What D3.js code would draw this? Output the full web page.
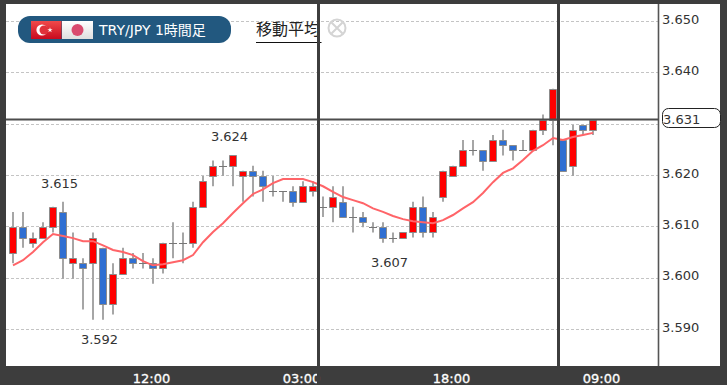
<!DOCTYPE html>
<html>
<head>
<meta charset="utf-8">
<script src="https://cdnjs.cloudflare.com/ajax/libs/d3/7.8.5/d3.min.js"></script>
<style>
html,body{margin:0;padding:0;background:#3d3d3d;overflow:hidden}
svg{display:block}
text{font-family:"DejaVu Sans",sans-serif}
</style>
</head>
<body>
<svg id="c" width="727" height="385"></svg>
<script>
const opens = [3.605,3.610,3.607,3.608,3.610,3.613,3.603,3.603,3.603,3.606,3.595,3.601,3.604,3.603,3.603,3.602,3.607,3.607,3.607,3.614,3.620,3.622,3.622,3.620,3.621,3.620,3.617,3.617,3.617,3.615,3.617,3.614,3.614,3.615,3.612,3.612,3.610,3.610,3.608,3.608,3.609,3.614,3.609,3.616,3.620,3.622,3.625,3.625,3.623,3.627,3.626,3.625,3.625,3.629,3.631,3.627,3.622,3.630,3.629];
const closes = [3.610,3.608,3.608,3.610,3.614,3.604,3.604,3.602,3.608,3.595,3.601,3.604,3.603,3.603,3.602,3.607,3.607,3.607,3.614,3.619,3.622,3.622,3.624,3.621,3.620,3.618,3.617,3.617,3.615,3.618,3.618,3.614,3.616,3.612,3.612,3.611,3.610,3.608,3.608,3.609,3.614,3.609,3.612,3.621,3.622,3.625,3.625,3.623,3.627,3.626,3.625,3.625,3.629,3.631,3.637,3.621,3.629,3.629,3.631];
const highs = [3.613,3.613,3.609,3.611,3.614,3.615,3.609,3.604,3.609,3.606,3.603,3.606,3.605,3.605,3.604,3.607,3.611,3.609,3.615,3.620,3.623,3.623,3.624,3.621,3.622,3.621,3.620,3.617,3.618,3.619,3.619,3.616,3.618,3.618,3.614,3.613,3.611,3.611,3.609,3.609,3.615,3.616,3.613,3.621,3.622,3.627,3.627,3.625,3.628,3.629,3.626,3.627,3.629,3.632,3.637,3.627,3.630,3.630,3.631];
const lows = [3.603,3.606,3.606,3.608,3.609,3.600,3.600,3.594,3.592,3.592,3.593,3.601,3.602,3.602,3.599,3.601,3.604,3.603,3.606,3.614,3.618,3.620,3.618,3.615,3.616,3.615,3.616,3.615,3.614,3.615,3.616,3.612,3.611,3.612,3.609,3.610,3.609,3.607,3.607,3.608,3.608,3.608,3.608,3.615,3.620,3.622,3.624,3.621,3.623,3.624,3.623,3.625,3.625,3.628,3.626,3.621,3.620,3.628,3.628];
const movingAverage = [3.6026,3.6036,3.6052,3.6071,3.6087,3.6083,3.6079,3.6073,3.6073,3.6065,3.6056,3.6052,3.6046,3.6034,3.6026,3.6028,3.6032,3.6036,3.6046,3.6071,3.6091,3.6108,3.6128,3.6147,3.6165,3.6174,3.6186,3.6194,3.6194,3.6194,3.6188,3.6180,3.6169,3.6159,3.6153,3.6147,3.6137,3.6130,3.6122,3.6116,3.6112,3.6110,3.6108,3.6114,3.6124,3.6137,3.6149,3.6167,3.6188,3.6206,3.6215,3.6231,3.6249,3.6260,3.6274,3.6270,3.6276,3.6280,3.6284];
const gridPrices = [3.650,3.640,3.630,3.620,3.610,3.600,3.590];
const priceTicks = [3.650,3.640,3.620,3.610,3.600,3.590];
const timeTickIndex = [14,29,44,59];
const timeTickLabels = ["12:00","03:00","18:00","09:00"];
const separators = [30.55,54.55];
const lastPrice = 3.631;
const highNotes = [{i:5,v:3.615},{i:22,v:3.624}];
const lowNotes = [{i:9,v:3.592},{i:38,v:3.607}];

const svg = d3.select("#c");
const L=6,R=720,T=4,B=366,AX=658.5;
const x = d3.scaleLinear().domain([0,58]).range([13,593]);
const y = d3.scaleLinear().domain([3.650,3.590]).range([22,330]);
const crisp = v => Math.round(v)+0.5;

svg.append("rect").attr("width",727).attr("height",385).attr("fill","#3d3d3d");
svg.append("rect").attr("x",L).attr("y",T).attr("width",R-L).attr("height",B-T).attr("fill","#fff");

const defs = svg.append("defs");
const g1 = defs.append("linearGradient").attr("id","tr").attr("x1",0).attr("y1",0).attr("x2",0).attr("y2",1);
g1.append("stop").attr("offset",0).attr("stop-color","#f04a4a");
g1.append("stop").attr("offset",1).attr("stop-color","#c80a1e");
const g2 = defs.append("linearGradient").attr("id","jp").attr("x1",0).attr("y1",0).attr("x2",0).attr("y2",1);
g2.append("stop").attr("offset",0).attr("stop-color","#ffffff");
g2.append("stop").attr("offset",1).attr("stop-color","#dedede");

// grid
svg.append("g").selectAll("line").data(gridPrices).join("line")
  .attr("x1",L).attr("x2",AX)
  .attr("y1",d=>crisp(y(d))-1).attr("y2",d=>crisp(y(d))-1)
  .attr("stroke","#c4c4c4").attr("stroke-width",1).attr("stroke-dasharray","3 2");

// candles
const idx = d3.range(opens.length);
const cg = svg.append("g");
cg.selectAll("line.w").data(idx).join("line").attr("class","w")
  .attr("x1",i=>x(i)).attr("x2",i=>x(i))
  .attr("y1",i=>y(highs[i])).attr("y2",i=>y(lows[i]))
  .attr("stroke","#a6a6a6").attr("stroke-width",2);
cg.selectAll("path.b").data(idx).join("path").attr("class","b")
  .attr("d",i=>{
    const t=Math.round(y(Math.max(opens[i],closes[i])));
    const b=Math.round(y(Math.min(opens[i],closes[i])));
    const l=x(i)-4;
    if(b===t) return `M${l},${t+.5}h8`;
    return `M${l+.5},${t+.5}h7v${b-t}h-7z`;
  })
  .attr("fill",i=>closes[i]>opens[i]?"#ff0000":closes[i]<opens[i]?"#2f6fd2":"none")
  .attr("stroke",i=>closes[i]===opens[i]?"#777":"#8c8c8c")
  .attr("stroke-width",1);

// moving average
svg.append("path").datum(movingAverage)
  .attr("d",d3.line().x((d,i)=>x(i)).y(d=>y(d)))
  .attr("fill","none").attr("stroke","#ff6468").attr("stroke-width",2);

// high and low notes
const noteStyle = s => s.attr("font-size",13).attr("fill","#333").attr("text-anchor","middle");
svg.append("g").selectAll("text").data(highNotes).join("text")
  .attr("x",d=>x(d.i)-3.5).attr("y",d=>y(d.v)-14).text(d=>d.v.toFixed(3)).call(noteStyle);
svg.append("g").selectAll("text").data(lowNotes).join("text")
  .attr("x",d=>x(d.i)-3.5).attr("y",d=>y(d.v)+24).text(d=>d.v.toFixed(3)).call(noteStyle);

// header pill
const hd = svg.append("g");
hd.append("rect").attr("x",18).attr("y",16).attr("width",213).attr("height",27).attr("rx",12).attr("fill","#22587f");
hd.append("rect").attr("x",31).attr("y",21).attr("width",30.5).attr("height",18).attr("fill","url(#tr)");
hd.append("circle").attr("cx",42).attr("cy",30).attr("r",5.6).attr("fill","#fff");
hd.append("circle").attr("cx",44).attr("cy",30).attr("r",4.5).attr("fill","#e0313a");
hd.append("path").attr("d",d3.symbol().type(d3.symbolStar).size(9)()).attr("transform","translate(50,30)").attr("fill","#fff");
hd.append("rect").attr("x",62).attr("y",21).attr("width",31).attr("height",18).attr("fill","url(#jp)");
hd.append("circle").attr("cx",77.5).attr("cy",30).attr("r",6).attr("fill","#d94a6e");
const ht = hd.append("text").attr("x",99).attr("y",34.5).attr("fill","#fff")
  .style("font-family",'"DejaVu Sans","Noto Sans CJK JP",sans-serif');
ht.append("tspan").attr("font-size",14).text("TRY/JPY ");
ht.append("tspan").attr("font-size",14).text("1時間足");

// moving average toggle
svg.append("text").attr("x",256).attr("y",35).attr("font-size",16).attr("fill","#222")
  .style("font-family",'"Noto Sans CJK JP",sans-serif').text("移動平均");
svg.append("line").attr("x1",256).attr("x2",321.5).attr("y1",42.5).attr("y2",42.5).attr("stroke","#111");
const ic = svg.append("g").attr("transform","translate(337,28)").attr("fill","none").attr("stroke","#d4d4d4").attr("stroke-width",2);
ic.append("circle").attr("r",8.5);
ic.append("path").attr("d","M-5.5,-5.5L5.5,5.5M5.5,-5.5L-5.5,5.5");

// axes
const yAxis = svg.append("g").attr("transform",`translate(${AX},0)`)
  .call(d3.axisRight(y).tickValues(priceTicks).tickFormat(d3.format(".3f")).tickSize(0).tickPadding(3.5));
yAxis.select(".domain").remove();
yAxis.selectAll("text").attr("font-size",13).attr("fill","#333").style("font-family",'"DejaVu Sans",sans-serif').attr("dy","1px");

const xAxis = svg.append("g").attr("transform",`translate(-2,${B})`)
  .call(d3.axisBottom(x).tickValues(timeTickIndex).tickFormat((d,i)=>timeTickLabels[i]).tickSize(0).tickPadding(8));
xAxis.select(".domain").remove();
xAxis.selectAll("text").attr("font-size",13).attr("fill","#fff").attr("stroke","#fff").attr("stroke-width",0.3)
  .style("font-family",'"DejaVu Sans",sans-serif');

// price axis line
svg.append("line").attr("x1",AX).attr("x2",AX).attr("y1",T).attr("y2",B).attr("stroke","#555").attr("stroke-width",1.6);

// crosshair
svg.append("line").attr("x1",L).attr("x2",AX).attr("y1",119.5).attr("y2",119.5)
  .attr("data-price",lastPrice).attr("stroke","#4c4c4c").attr("stroke-width",2);
svg.append("rect").attr("x",662.5).attr("y",108.5).attr("width",58).attr("height",19).attr("rx",6)
  .attr("fill","#fff").attr("stroke","#222");
svg.append("text").attr("x",663).attr("y",123.5).attr("font-size",13).attr("fill","#333").text(lastPrice.toFixed(3));

// separators
svg.append("g").selectAll("line").data(separators).join("line")
  .attr("x1",d=>x(d)).attr("x2",d=>x(d)).attr("y1",0).attr("y2",385)
  .attr("stroke","#3d3d3d").attr("stroke-width",3);
</script>
</body>
</html>
